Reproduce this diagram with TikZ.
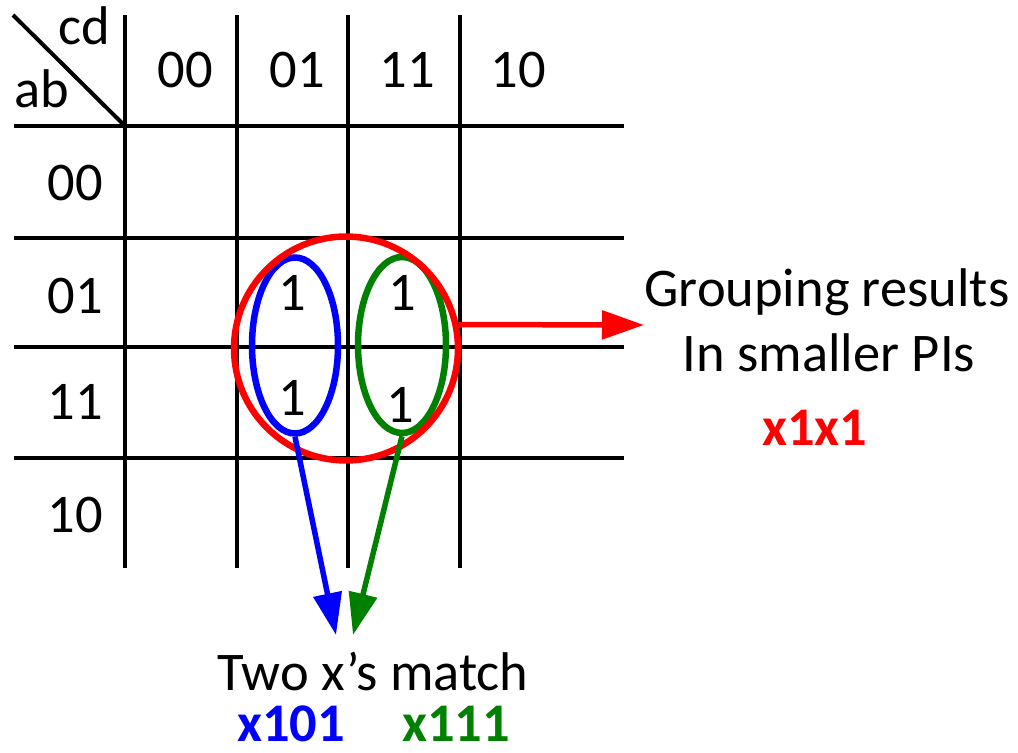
\documentclass[tikz,border=0pt]{standalone}
\usepackage{fontspec}
\setmainfont{Carlito}
\usetikzlibrary{arrows.meta,shapes.geometric}
\definecolor{kred}{RGB}{255,0,0}
\definecolor{kblue}{RGB}{0,0,255}
\definecolor{kgreen}{RGB}{0,128,0}

\begin{document}
\begin{tikzpicture}[
    x=0.02cm, y=-0.02cm,
    every node/.style={font=\fontsize{31}{37}\selectfont, inner sep=0pt, anchor=base},
    grid/.style={line width=0.08cm},
    group/.style={draw, line width=0.13cm, anchor=center, minimum height=3.52cm},
    flow/.style={-{Triangle[length=0.84cm, width=0.56cm]}, line width=0.11cm},
    result/.style={font=\fontsize{31}{37}\selectfont\bfseries}
]
\useasboundingbox (0,0) rectangle (1018,753);
% grid of the map
\foreach \y in {126,238,347,458}
  \draw[grid] (14,\y) -- (624,\y);
\foreach \x in {125,237,348,460}
  \draw[grid] (\x,15) -- (\x,568);
\draw[grid] (13,15) -- (125,126);
\node (cd) at (84,45) {cd};
\node (ab) at (42,108) {ab};
% column and row labels
\foreach \lab/\x in {00/185,01/297,11/407,10/518}
  \node (col\lab) at (\x,88) {\lab};
\foreach \lab/\y in {00/201,01/314,11/419,10/532}
  \node (row\lab) at (75,\y) {\lab};
% the ones
\node (m5) at (292,311) {1};
\node (m13) at (292,415) {1};
\node (m7) at (402,311) {1};
\node (m15) at (400,422) {1};
% groups
\node[group, ellipse, draw=kblue, minimum width=1.72cm] (grpB) at (295,345.5) {};
\node[group, ellipse, draw=kgreen, minimum width=1.76cm] (grpG) at (402,345) {};
\node[group, circle, draw=kred, minimum size=4.48cm] (grpR) at (346,348.5) {};
% notes
\node (note1) at (827,307) {Grouping results};
\node (note2) at (829,372) {In smaller PIs};
\node[result, text=kred] (pi) at (815,445) {x1x1};
\node (note3) at (373,690) {Two x’s match};
\node[result, text=kblue] (piB) at (291,741) {x101};
\node[result, text=kgreen] (piG) at (456,741) {x111};
\coordinate (tipR) at (644,325);
\coordinate (tipB) at (336,635);
\coordinate (tipG) at (353,635);
\draw[flow, kred] (grpR.12) -- (tipR);
\draw[flow, kblue] (grpB.south) -- (tipB);
\draw[flow, kgreen] (grpG.south) -- (tipG);
\end{tikzpicture}
\end{document}
